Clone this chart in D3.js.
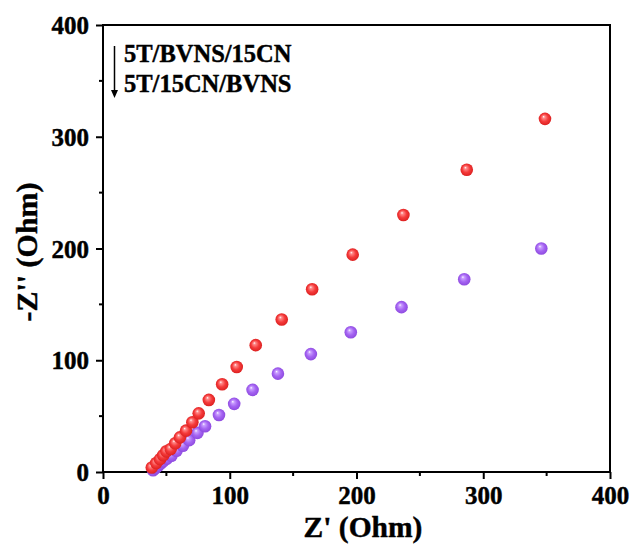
<!DOCTYPE html>
<html>
<head>
<meta charset="utf-8">
<script src="https://cdn.jsdelivr.net/npm/d3@7"></script>
<style>
  html, body { margin: 0; padding: 0; background: #fff; }
  svg { display: block; }
  text { font-family: "Liberation Serif", "Times New Roman", serif; font-weight: bold; fill: #000;
         stroke: #000; stroke-width: 0.45px; }
</style>
</head>
<body>
<svg id="chart" width="635" height="545"></svg>
<script>
// Nyquist impedance data, two samples
const seriesNames = ["5T/BVNS/15CN", "5T/15CN/BVNS"];

const redZre = [38.5, 42, 45, 47.5, 50, 53.4, 57, 60.7, 65.5, 70.5, 75.5, 83.5, 94, 105.5, 120.5, 141, 165, 197, 237, 287, 348.7];
const redZim = [4, 8, 11.5, 15, 18.5, 20.6, 25.7, 31, 37, 44.5, 52.5, 64.5, 78.5, 94, 113.5, 136.5, 163.5, 194.5, 230, 270.5, 316];

const purpleZre = [39.5, 41.5, 43.5, 45.5, 47.5, 50.5, 54, 58, 63, 68, 74.5, 80.5, 91.5, 103.5, 118, 138, 164, 195.5, 235.5, 285, 345.8];
const purpleZim = [1.5, 3.5, 5.5, 7.5, 9.5, 12, 14.5, 19, 23.5, 28.5, 35, 41, 51, 61, 73.5, 88, 105.5, 125, 147.5, 172.5, 200];

const xTicks = [0, 100, 200, 300, 400];
const yTicks = [0, 100, 200, 300, 400];
const minorTicks = [50, 150, 250, 350];

const svg = d3.select("#chart");
const plotL = 103, plotR = 610, plotT = 25, plotB = 472;

const x = d3.scaleLinear().domain([0, 400]).range([plotL, plotR]);
const y = d3.scaleLinear().domain([0, 400]).range([plotB, plotT]);

// sphere-like shading for markers
const defs = svg.append("defs");
function sphere(id, light, base, dark) {
  const g = defs.append("radialGradient").attr("id", id)
    .attr("cx", "50%").attr("cy", "50%").attr("r", "55%")
    .attr("fx", "38%").attr("fy", "32%");
  g.append("stop").attr("offset", "0%").attr("stop-color", "#ffffff");
  g.append("stop").attr("offset", "18%").attr("stop-color", light);
  g.append("stop").attr("offset", "55%").attr("stop-color", base);
  g.append("stop").attr("offset", "100%").attr("stop-color", dark);
}
sphere("gRed", "#ff8a8a", "#f53b3b", "#d81c1c");
sphere("gPurple", "#caa0ff", "#a564f2", "#8a46dc");

// frame
svg.append("rect").attr("x", plotL).attr("y", plotT)
  .attr("width", plotR - plotL).attr("height", plotB - plotT)
  .attr("fill", "none").attr("stroke", "#000").attr("stroke-width", 2);

// x axis
const xAxis = svg.append("g").attr("transform", `translate(0,${plotB})`);
xAxis.call(d3.axisBottom(x).tickValues(xTicks).tickSize(7).tickPadding(3).tickFormat(d3.format("d")));
xAxis.call(g => g.select(".domain").remove());
xAxis.selectAll(".tick line").attr("stroke-width", 2);
xAxis.selectAll(".tick text").attr("dy", null).attr("y", 32)
  .style("font-size", "25px")
  .style("font-family", "Liberation Serif").style("font-weight", "bold");
xAxis.selectAll(".minor").data(minorTicks).enter().append("line")
  .attr("x1", d => x(d)).attr("x2", d => x(d)).attr("y1", 0).attr("y2", 4)
  .attr("stroke", "#000").attr("stroke-width", 2);

// y axis
const yAxis = svg.append("g").attr("transform", `translate(${plotL},0)`);
yAxis.call(d3.axisLeft(y).tickValues(yTicks).tickSize(7).tickFormat(d3.format("d")));
yAxis.call(g => g.select(".domain").remove());
yAxis.selectAll(".tick line").attr("stroke-width", 2);
yAxis.selectAll(".tick text").attr("x", -14).attr("dy", null).attr("y", 8.5)
  .style("font-size", "25px")
  .style("font-family", "Liberation Serif").style("font-weight", "bold");
yAxis.selectAll(".minor").data(minorTicks).enter().append("line")
  .attr("y1", d => y(d)).attr("y2", d => y(d)).attr("x1", 0).attr("x2", -4)
  .attr("stroke", "#000").attr("stroke-width", 2);

// axis titles
svg.append("text").attr("x", 363).attr("y", 537)
  .attr("text-anchor", "middle").attr("font-size", 29.5).text("Z' (Ohm)");
svg.append("text").attr("transform", `translate(37,252) rotate(-90)`)
  .attr("text-anchor", "middle").attr("font-size", 30).text("-Z'' (Ohm)");

// markers: purple first, red drawn on top
const purple = purpleZre.map((v, i) => [v, purpleZim[i]]);
const red = redZre.map((v, i) => [v, redZim[i]]);

svg.append("g").selectAll("circle").data(purple).enter().append("circle")
  .attr("cx", d => x(d[0])).attr("cy", d => y(d[1])).attr("r", 6.3)
  .attr("fill", "url(#gPurple)");
svg.append("g").selectAll("circle").data(red).enter().append("circle")
  .attr("cx", d => x(d[0])).attr("cy", d => y(d[1])).attr("r", 6.3)
  .attr("fill", "url(#gRed)");

// legend with downward arrow
const lg = svg.append("g");
lg.append("line").attr("x1", 114.5).attr("x2", 114.5).attr("y1", 46).attr("y2", 91)
  .attr("stroke", "#000").attr("stroke-width", 1.5);
lg.append("path").attr("d", "M111,90 L118,90 L114.5,98 Z").attr("fill", "#000");
lg.selectAll("text").data(seriesNames).enter().append("text")
  .attr("x", 124).attr("y", (d, i) => 62 + i * 29.5)
  .attr("font-size", 24.5).text(d => d);
</script>
</body>
</html>
